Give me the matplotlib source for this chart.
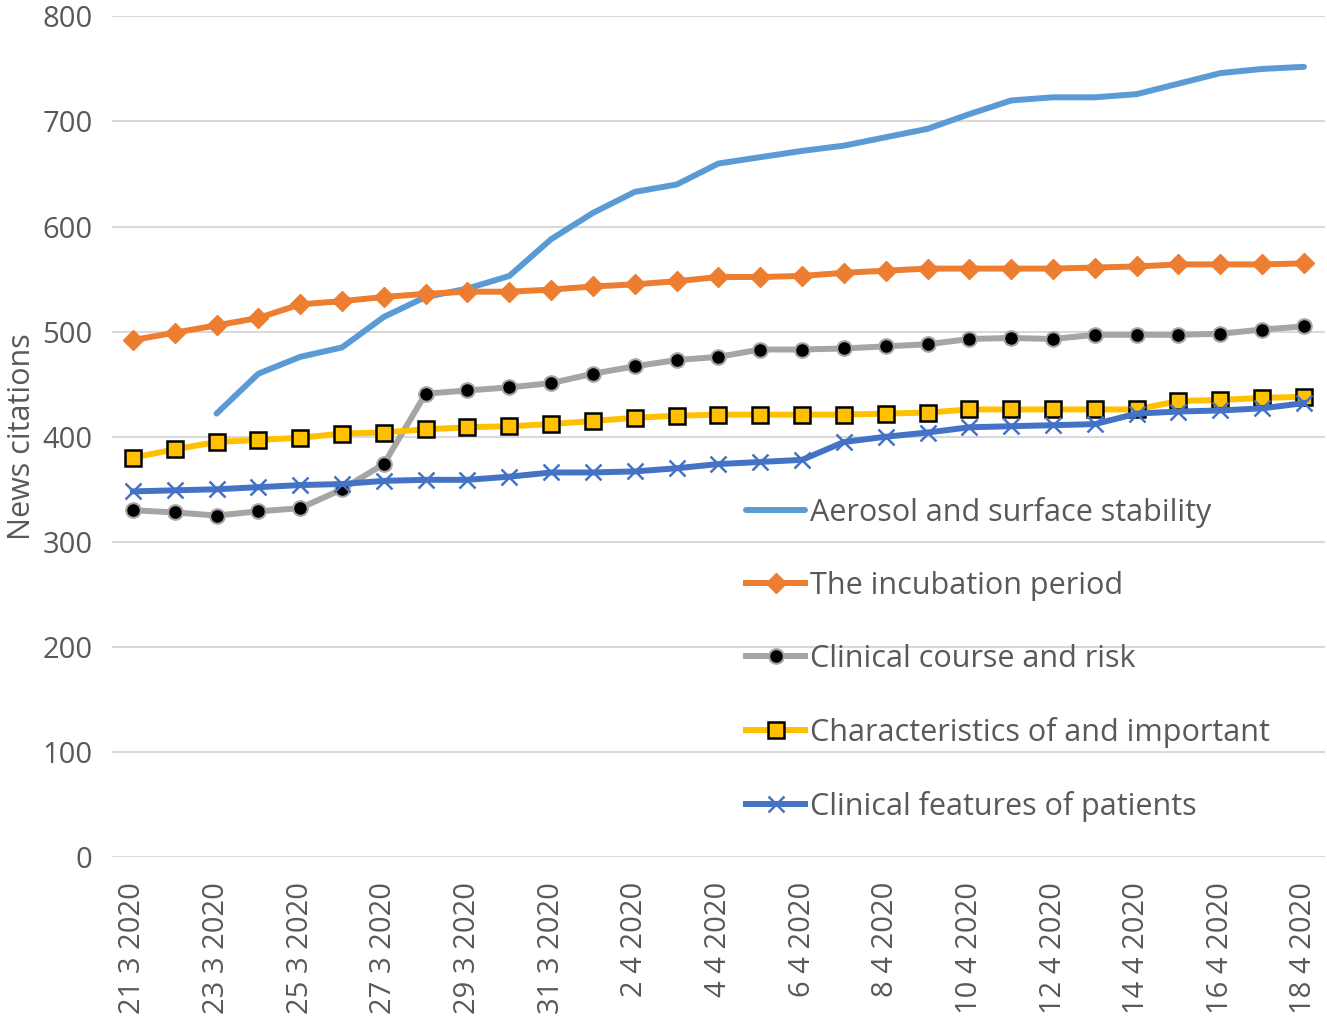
import matplotlib
matplotlib.use("Agg")
import matplotlib.pyplot as plt
import numpy as np

# daily news citations, 21 Mar 2020 .. 18 Apr 2020
dates = [f"{d} 3 2020" for d in range(21, 32)] + [f"{d} 4 2020" for d in range(1, 19)]

aerosol = [np.nan, np.nan, 422, 460, 476, 485, 514, 533, 541, 553, 588, 613, 633, 640,
           660, 666, 672, 677, 685, 693, 707, 720, 723, 723, 726, 736, 746, 750, 752]
incubation = [492, 499, 506, 513, 526, 529, 533, 536, 538, 538, 540, 543, 545, 548,
              552, 552, 553, 556, 558, 560, 560, 560, 560, 561, 562, 564, 564, 564, 565]
clinical_course = [330, 328, 325, 329, 332, 350, 374, 441, 444, 447, 451, 460, 467, 473,
                   476, 483, 483, 484, 486, 488, 493, 494, 493, 497, 497, 497, 498, 502, 505]
characteristics = [380, 388, 395, 397, 399, 403, 404, 407, 409, 410, 412, 415, 418, 420,
                   421, 421, 421, 421, 422, 423, 426, 426, 426, 426, 426, 434, 435, 437, 438]
clinical_features = [348, 349, 350, 352, 354, 355, 358, 359, 359, 362, 366, 366, 367, 370,
                     374, 376, 378, 395, 400, 404, 409, 410, 411, 412, 422, 424, 425, 427, 432]

TEXT = "#595959"
FONT = "Open Sans"
TICK_FS = 21
LEG_FS = 22

plt.rcParams["font.family"] = [FONT, "DejaVu Sans"]

fig = plt.figure(figsize=(13.27, 10.24), dpi=100)
ax = fig.add_axes([0.0844, 0.163, 0.914, 0.821])

x = np.arange(len(dates))
lw = 4.3
ax.plot(x, aerosol, color="#5B9BD5", lw=lw, solid_capstyle="round",
        label="Aerosol and surface stability")
ax.plot(x, incubation, color="#ED7D31", lw=lw, marker="D", ms=10.5,
        mfc="#ED7D31", mec="#ED7D31", label="The incubation period")
ax.plot(x, clinical_course, color="#A5A5A5", lw=lw, marker="o", ms=10.5,
        mfc="black", mec="#A5A5A5", mew=1.5, label="Clinical course and risk")
ax.plot(x, characteristics, color="#FFC000", lw=lw, marker="s", ms=11,
        mfc="#FFC000", mec="black", mew=1.8, label="Characteristics of and important")
ax.plot(x, clinical_features, color="#4472C4", lw=lw, marker="x", ms=11,
        mec="#4472C4", mew=1.8, label="Clinical features of patients")

ax.set_xlim(-0.5, 28.5)
ax.set_ylim(0, 800)
ax.set_yticks(range(0, 801, 100))
ax.set_xticks(x[::2])
ax.set_xticklabels(dates[::2], rotation=90)
ax.grid(axis="y", color="#D9D9D9", lw=1.5)
ax.set_axisbelow(True)
for s in ax.spines.values():
    s.set_visible(False)
ax.tick_params(length=0, labelsize=TICK_FS, labelcolor=TEXT, pad=14)
ax.tick_params(axis="x", pad=18)
ax.set_ylabel("News citations", fontsize=LEG_FS, color=TEXT, labelpad=4)

leg = fig.legend(loc="upper left", bbox_to_anchor=(0.5625, 0.515), frameon=False,
                 fontsize=LEG_FS, handlelength=1.92, handletextpad=0.17,
                 labelspacing=1.41, borderpad=0, borderaxespad=0)
for t in leg.get_texts():
    t.set_color(TEXT)

fig.savefig("out.png", dpi=100)
